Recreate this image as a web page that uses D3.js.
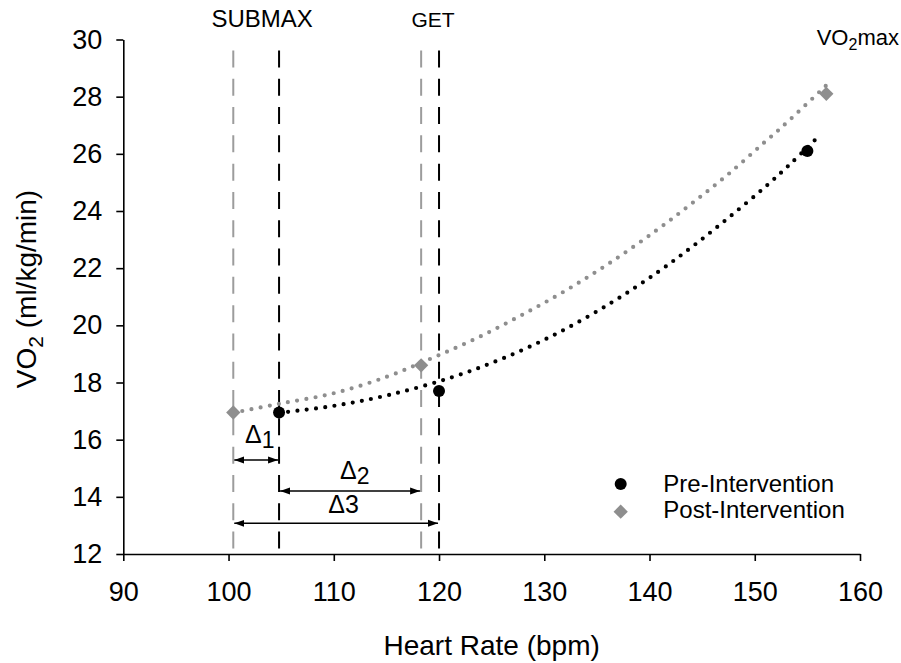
<!DOCTYPE html>
<html><head><meta charset="utf-8">
<script src="https://cdn.jsdelivr.net/npm/d3@7"></script>
<style>
html,body{margin:0;padding:0;background:#fff;}
svg text{font-family:Arial,"Liberation Sans",sans-serif;fill:#000;}
</style>
</head><body>
<svg id="chart" width="901" height="663"></svg>
<script>
// ---- data ----
const preHR = [104.8, 120, 155];
const preVO2 = [16.95, 17.7, 26.1];
const postHR = [100.45, 118.3, 156.8];
const postVO2 = [16.95, 18.6, 28.1];

const preTrendHR  = [104.8, 109.95, 115.18, 121.04, 126.11, 131.33, 136.41, 140.74, 144.16, 147.56, 150.98, 153.51, 156.04];
const preTrendVO2 = [16.94, 17.18, 17.56, 18.16, 18.85, 19.74, 20.80, 21.85, 22.78, 23.78, 24.84, 25.69, 26.60];
const postTrendHR  = [100.45, 104.73, 109.95, 115.03, 119.31, 123.58, 127.86, 132.14, 136.41, 140.68, 144.11, 147.49, 150.88, 152.62, 156.9];
const postTrendVO2 = [16.94, 17.25, 17.62, 18.20, 18.85, 19.55, 20.36, 21.24, 22.23, 23.33, 24.29, 25.29, 26.39, 26.95, 28.43];

const xTicks = [90, 100, 110, 120, 130, 140, 150, 160];
const yTicks = [12, 14, 16, 18, 20, 22, 24, 26, 28, 30];
const seriesNames = ["Pre-Intervention", "Post-Intervention"];

// ---- layout ----
const svg = d3.select("#chart");
const x = d3.scaleLinear().domain([90, 160]).range([123.3, 860]);
const y = d3.scaleLinear().domain([12, 30]).range([554, 39.5]);
const BLACK = "#000", GRAY = "#8e8e8e", GRAYLINE = "#9c9c9c";

// axes
const xAxis = svg.append("g").attr("transform", `translate(0,${y(12)})`)
  .call(d3.axisBottom(x).tickValues(xTicks).tickSize(7).tickPadding(21).tickSizeOuter(0));
const yAxis = svg.append("g").attr("transform", `translate(${x(90)},0)`)
  .call(d3.axisLeft(y).tickValues(yTicks).tickSize(7).tickPadding(14).tickSizeOuter(0));
[xAxis, yAxis].forEach(a => {
  a.select(".domain").attr("stroke", BLACK).attr("stroke-width", 1.6);
  a.selectAll(".tick line").attr("stroke", BLACK).attr("stroke-width", 1.6);
  a.selectAll(".tick text").attr("font-size", 27).attr("font-family", "Arial, 'Liberation Sans', sans-serif");
});

// vertical dashed threshold lines
function vline(hr, color) {
  svg.append("line")
    .attr("x1", x(hr)).attr("x2", x(hr))
    .attr("y1", y(30)).attr("y2", y(12))
    .attr("stroke", color).attr("stroke-width", 2)
    .attr("stroke-dasharray", "17,11.3").attr("stroke-dashoffset", 17.33);
}
vline(postHR[0], GRAYLINE); vline(postHR[1], GRAYLINE);
vline(preHR[0], BLACK); vline(preHR[1], BLACK);

// dotted trend lines
const line = d3.line().x(d => x(d[0])).y(d => y(d[1])).curve(d3.curveCatmullRom);
function trend(hrs, vos, color) {
  svg.append("path").datum(hrs.map((h, i) => [h, vos[i]]))
    .attr("d", line).attr("fill", "none")
    .attr("stroke", color).attr("stroke-width", 4.2)
    .attr("stroke-linecap", "round").attr("stroke-dasharray", "0,9.3");
}
trend(postTrendHR, postTrendVO2, GRAY);
trend(preTrendHR, preTrendVO2, BLACK);

// markers
const diamond = d3.symbol().type(d3.symbolDiamond2 || d3.symbolDiamond).size(130);
svg.append("g").selectAll("path").data(postHR.map((h, i) => [h, postVO2[i]])).join("path")
  .attr("d", diamond).attr("fill", GRAY)
  .attr("transform", d => `translate(${x(d[0])},${y(d[1])})`);
svg.append("g").selectAll("circle").data(preHR.map((h, i) => [h, preVO2[i]])).join("circle")
  .attr("cx", d => x(d[0])).attr("cy", d => y(d[1])).attr("r", 6).attr("fill", BLACK);

// arrows
const defs = svg.append("defs");
["s", "e"].forEach(k => {
  defs.append("marker").attr("id", "arr-" + k)
    .attr("viewBox", "0 0 10 8").attr("refX", k === "e" ? 10 : 0).attr("refY", 4)
    .attr("markerWidth", 10).attr("markerHeight", 8).attr("markerUnits", "userSpaceOnUse")
    .attr("orient", "auto")
    .append("path").attr("d", k === "e" ? "M0,0.5 L10,4 L0,7.5 Z" : "M10,0.5 L0,4 L10,7.5 Z").attr("fill", BLACK);
});
function arrow(h1, h2, py) {
  svg.append("line").attr("x1", x(h1) + 1).attr("x2", x(h2) - 1).attr("y1", py).attr("y2", py)
    .attr("stroke", BLACK).attr("stroke-width", 1.5)
    .attr("marker-start", "url(#arr-s)").attr("marker-end", "url(#arr-e)");
}
arrow(postHR[0], preHR[0], 460);
arrow(preHR[0], postHR[1], 491);
arrow(postHR[0], preHR[1], 523.3);

// delta labels
function delta(px, py, sub, subShift, subSize) {
  const t = svg.append("text").attr("x", px).attr("y", py).attr("font-size", 25);
  t.append("tspan").text("Δ");
  t.append("tspan").attr("dy", subShift).attr("font-size", subSize).text(sub);
}
delta(245, 443.3, "1", 5, 23);
delta(340, 479.3, "2", 5, 23);
delta(328.3, 513.3, "3", 0, 25);

// top labels
svg.append("text").attr("x", (x(postHR[0]) + x(preHR[0])) / 2 + 6).attr("y", 27.3)
  .attr("text-anchor", "middle").attr("font-size", 24).text("SUBMAX");
svg.append("text").attr("x", (x(postHR[1]) + x(preHR[1])) / 2 + 3).attr("y", 27.3)
  .attr("text-anchor", "middle").attr("font-size", 21).text("GET");
const vm = svg.append("text").attr("x", 816.7).attr("y", 45).attr("font-size", 22);
vm.append("tspan").text("VO");
vm.append("tspan").attr("dy", 5).attr("font-size", 16).text("2");
vm.append("tspan").attr("dy", -5).text("max");

// axis titles
svg.append("text").attr("x", (x(90) + x(160)) / 2).attr("y", 655)
  .attr("text-anchor", "middle").attr("font-size", 28).text("Heart Rate (bpm)");
const yt = svg.append("text").attr("transform", "translate(36,289) rotate(-90)")
  .attr("text-anchor", "middle").attr("font-size", 28);
yt.append("tspan").text("VO");
yt.append("tspan").attr("dy", 7).attr("font-size", 21).text("2");
yt.append("tspan").attr("dy", -7).text(" (ml/kg/min)");

// legend
const lg = svg.append("g");
lg.append("circle").attr("cx", 620.7).attr("cy", 484).attr("r", 6).attr("fill", BLACK);
lg.append("path").attr("d", diamond).attr("fill", GRAY).attr("transform", "translate(620.7,511.7)");
lg.append("text").attr("x", 663.3).attr("y", 491.7).attr("font-size", 24).text(seriesNames[0]);
lg.append("text").attr("x", 663.3).attr("y", 518.3).attr("font-size", 24).text(seriesNames[1]);
</script>
</body></html>
